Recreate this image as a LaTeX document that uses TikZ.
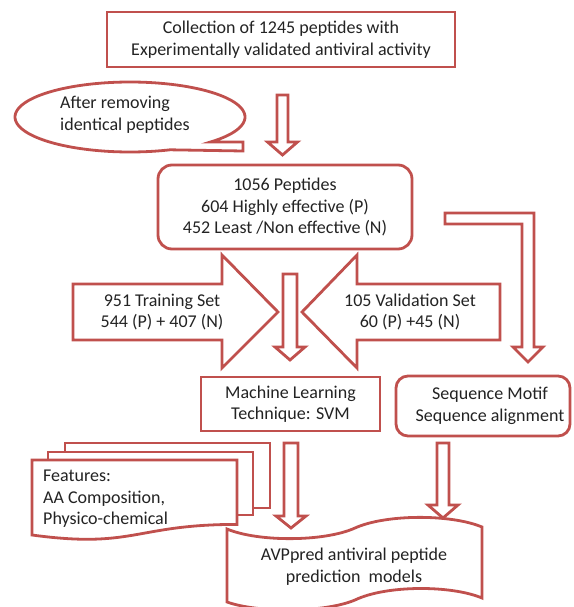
\documentclass[tikz,border=0pt]{standalone}
\usepackage{fontspec}
\setmainfont{Carlito}
\definecolor{accred}{RGB}{192,80,77}
\definecolor{txt}{RGB}{35,35,35}
\tikzset{
 shapeline/.style={draw=accred, line width=2.8pt, fill=white, line join=miter},
 boxnode/.style={shapeline, inner sep=0pt, align=center, text=txt, font=\fontsize{18}{21.5}\selectfont},
 lbl/.style={inner sep=0pt, text=txt, font=\fontsize{18}{21.5}\selectfont},
}
\newcommand\blockdown[6]{%
 \draw[shapeline] (#1-#5,#2) -- (#1+#5,#2) -- (#1+#5,#3) -- (#1+#6,#3) -- (#1,#4) -- (#1-#6,#3) -- (#1-#5,#3) -- cycle;}
\begin{document}
\begin{tikzpicture}[x=1pt,y=-1pt]
\useasboundingbox (0,0) rectangle (573,607);

% top box
\node[boxnode, minimum width=348pt, minimum height=55pt] (coll) at (281,39.5)
 {Collection of 1245 peptides with\\Experimentally validated antiviral activity};

% callout
\draw[shapeline] plot[domain=69.6:405.6, samples=140, variable=\t]
 ({130+115*cos(\t)},{117+35*sin(\t)}) -- (243,142) -- (243,151) -- cycle;
\node[lbl, anchor=west, align=left] (remove) at (60,115) {After removing\\identical peptides};

% arrow 1
\blockdown{282.5}{95}{142}{155}{5.5}{15}

% box 2
\node[boxnode, rounded corners=14pt, minimum width=254pt, minimum height=84pt] (pep) at (285,207)
 {1056 Peptides\\604 Highly effective (P)\\452 Least /Non effective (N)};

% bent arrow
\draw[shapeline] (445,213) -- (534,213) -- (534,347) -- (543,347) -- (528,362) -- (513,347)
 -- (522,347) -- (522,224) -- (445,224) -- cycle;

% big arrows
\draw[shapeline] (73,284) -- (222,284) -- (222,255) -- (278,312) -- (222,368) -- (222,340) -- (73,340) -- cycle;
\node[lbl, align=center] (train) at (162,312) {951 Training Set\\544 (P) + 407 (N)};
\draw[shapeline] (500,284) -- (357,284) -- (357,255) -- (302,312) -- (357,368) -- (357,340) -- (500,340) -- cycle;
\node[lbl, align=center] (valid) at (410,312) {105 Validation Set\\60 (P) +45 (N)};

% middle arrow
\blockdown{290}{274}{347}{360}{7}{15}

% ML box
\node[boxnode, minimum width=179pt, minimum height=54pt] (ml) at (290.5,404)
 {Machine Learning\\Technique: SVM};
% Seq box
\node[boxnode, rounded corners=12pt, minimum width=174pt, minimum height=60pt] (seq) at (483,406) {};
\node[lbl, align=center] (seqtxt) at (490,406) {Sequence Motif\\Sequence alignment};

% multi document
\draw[shapeline] (65,443) rectangle (270,508);
\draw[shapeline] (48,452) rectangle (253,515);
\draw[shapeline] (32,460) -- (237,460) -- (237,524.4) .. controls (134.5,524.4) and (134.5,548.9) .. (32,535) -- cycle;
\node[lbl, anchor=west, align=left] (feat) at (43,499) {Features:\\AA Composition,\\Physico-chemical};

% arrows down
\blockdown{291}{443}{516}{528}{7}{15}
\blockdown{443}{443}{505}{518}{6}{15}

% punched tape
\draw[shapeline] (227,529) .. controls (258,542) and (324,542) .. (355,528)
 .. controls (386,514) and (451,514) .. (482,527) -- (482,598)
 .. controls (451,585) and (386,585) .. (355,600)
 .. controls (324,613) and (258,613) .. (227,602) -- cycle;
\node[lbl, align=center] (avp) at (354,566.5) {AVPpred antiviral peptide\\prediction\ \ models};
\end{tikzpicture}
\end{document}
